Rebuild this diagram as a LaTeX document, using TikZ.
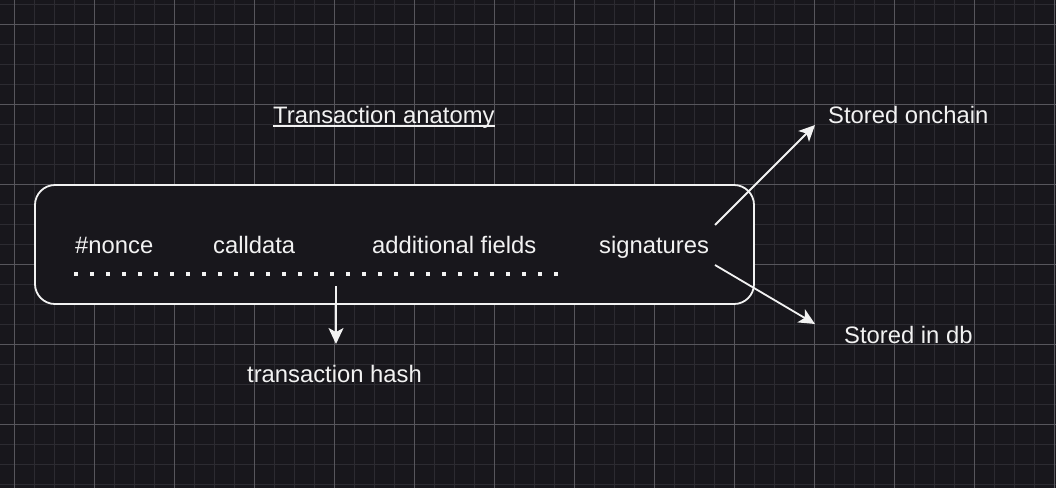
\documentclass[tikz,border=0pt]{standalone}
\usepackage{fontspec}
\setmainfont{Liberation Sans}
\usetikzlibrary{arrows.meta}
\definecolor{canvas}{HTML}{18171C}
\definecolor{gridminor}{HTML}{2C2B31}
\definecolor{gridmajor}{HTML}{57565C}
\definecolor{ink}{HTML}{F2F2F2}
\begin{document}
\begin{tikzpicture}[
  x=1pt, y=-1pt,
  label/.style={text=ink, inner sep=0pt, anchor=base west,
                font=\fontsize{23.8}{28}\selectfont},
  txbox/.style={rectangle, rounded corners=20pt, draw=ink, line width=1.8pt,
                fill=canvas, minimum width=719pt, minimum height=119pt},
  arrow/.style={-{Stealth[length=16pt, width=15pt, inset=4pt]}, line width=1.8pt, draw=ink},
  dots/.style={draw=ink, line width=4pt, dash pattern=on 4pt off 12pt},
]
%% Background and grid
\fill[canvas] (0,0) rectangle (1056,488);
\useasboundingbox (0,0) rectangle (1056,488);
\foreach \x in {-6,14,...,1056} \draw[gridminor, line width=1pt] (\x,0) -- (\x,488);
\foreach \y in {4,24,...,488}   \draw[gridminor, line width=1pt] (0,\y) -- (1056,\y);
\foreach \x in {14,94,...,1056} \draw[gridmajor, line width=1pt] (\x,0) -- (\x,488);
\foreach \y in {24,104,...,488} \draw[gridmajor, line width=1pt] (0,\y) -- (1056,\y);

%% Title
\node[label] (title) at (273,123) {Transaction anatomy};
\draw[ink, line width=1.5pt] ([yshift=-3pt]title.base west) -- ([yshift=-3pt]title.base east);

%% Transaction box and its fields
\node[txbox] (tx) at (394.5,244.5) {};
\node[label] (nonce)   at (75,253)  {\#nonce};
\node[label] (cdata)   at (213,253) {calldata};
\node[label] (extra)   at (372,253) {additional fields};
\node[label] (sig)     at (599,253) {signatures};
\draw[dots] (74,274) -- (562,274);

%% Outputs
\node[label] (hash)    at (247,382) {transaction hash};
\node[label] (onchain) at (828,123) {Stored onchain};
\node[label] (db)      at (844,343) {Stored in db};

\coordinate (hashfrom) at (336,286);
\coordinate (hashto)   at (336,344);
\coordinate (sigup)    at (715,225);
\coordinate (sigdown)  at (715,265);
\coordinate (chainto)  at (815,125);
\coordinate (dbto)     at (815,324);

%% Arrows
\draw[arrow] (hashfrom) -- (hashto);
\draw[arrow] (sigup)    -- (chainto);
\draw[arrow] (sigdown)  -- (dbto);
\end{tikzpicture}
\end{document}
